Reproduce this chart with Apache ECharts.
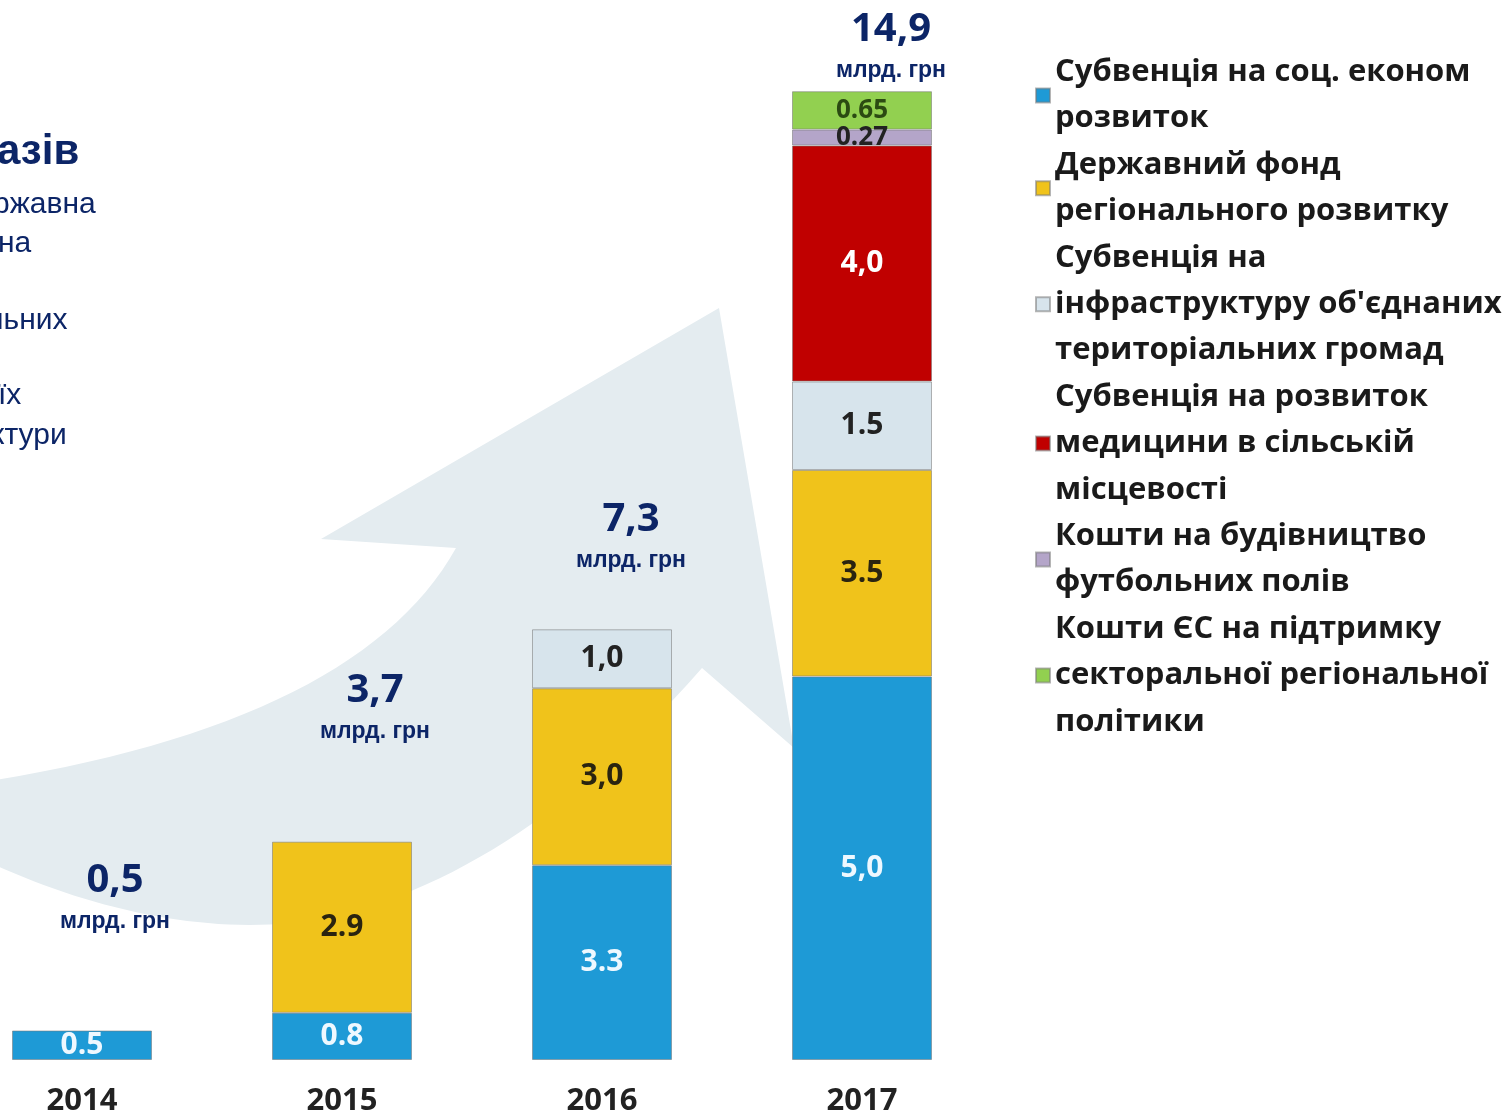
<!DOCTYPE html>
<html lang="uk">
<head>
<meta charset="UTF-8">
<title>Фінансування регіонального розвитку</title>
<script src="https://cdn.jsdelivr.net/npm/echarts@6/dist/echarts.min.js"></script>
<style>
  html, body { margin: 0; padding: 0; background: #fff; }
  #chart { width: 1512px; height: 1113px; }
</style>
</head>
<body>
<div id="chart"></div>
<script>
// роки
var years = ['2014', '2015', '2016', '2017'];

// назви джерел (легенда)
var sourceNames = [
  'Субвенція на соц. економ розвиток',
  'Державний фонд регіонального розвитку',
  "Субвенція на інфраструктуру об'єднаних територіальних громад",
  'Субвенція на розвиток медицини в сільській місцевості',
  'Кошти на будівництво футбольних полів',
  'Кошти ЄС на підтримку секторальної регіональної політики'
];
var legendText = [
  'Субвенція на соц. економ\nрозвиток',
  'Державний фонд\nрегіонального розвитку',
  "Субвенція на\nінфраструктуру об'єднаних\nтериторіальних громад",
  'Субвенція на розвиток\nмедицини в сільській\nмісцевості',
  'Кошти на будівництво\nфутбольних полів',
  'Кошти ЄС на підтримку\nсекторальної регіональної\nполітики'
];

// висоти сегментів, як їх намальовано (млрд грн)
// (синій сегмент 2017 в оригіналі намальований вищим за свій підпис 5,0)
var socEcon   = [0.5, 0.8, 3.3, 6.5];
var fundDFRR  = [null, 2.9, 3.0, 3.5];
var infraOTG  = [null, null, 1.0, 1.5];
var medicine  = [null, null, null, 4.0];
var football  = [null, null, null, 0.27];
var euSupport = [null, null, null, 0.65];

// підписи сегментів, як на картинці
var socEconLbl   = ['0.5', '0.8', '3.3', '5,0'];
var fundDFRRLbl  = ['', '2.9', '3,0', '3.5'];
var infraOTGLbl  = ['', '', '1,0', '1.5'];
var medicineLbl  = ['', '', '', '4,0'];
var footballLbl  = ['', '', '', '0.27'];
var euSupportLbl = ['', '', '', '0.65'];

// підсумки над стовпцями
var totalsLbl = ['0,5', '3,7', '7,3', '14,9'];

var colors = ['#1e9ad6', '#f0c31b', '#d7e4ec', '#c00000', '#b4a5c9', '#92d050'];
var labelColors = ['#eef8ff', '#2a2410', '#222222', '#ffffff', '#222222', '#2b4a12'];

var navy = '#0c2567';

// відступ підсумку над верхом стовпця (px)
var totalLift = [150, 151, 110, 62];

// фонова стрілка: точки контуру, криві розбиваються на відрізки
function bez(p0, p1, p2, p3, n) {
  var out = [];
  for (var i = 1; i <= n; i++) {
    var t = i / n, u = 1 - t;
    if (p3) {
      out.push([u*u*u*p0[0] + 3*u*u*t*p1[0] + 3*u*t*t*p2[0] + t*t*t*p3[0],
                u*u*u*p0[1] + 3*u*u*t*p1[1] + 3*u*t*t*p2[1] + t*t*t*p3[1]]);
    } else {
      out.push([u*u*p0[0] + 2*u*t*p1[0] + t*t*p2[0],
                u*u*p0[1] + 2*u*t*p1[1] + t*t*p2[1]]);
    }
  }
  return out;
}
var arrowPts = [[-5, 780]]
  .concat(bez([-5, 780], [360, 720], [456, 548], null, 30))
  .concat([[321, 539], [719, 308], [794, 748], [702, 668]])
  .concat(bez([702, 668], [560, 830], [420, 905], [300, 922], 30))
  .concat(bez([300, 922], [200, 934], [90, 908], [-5, 865], 30));

var chart = echarts.init(document.getElementById('chart'));

var segValues = [socEcon, fundDFRR, infraOTG, medicine, football, euSupport];
var segLabels = [socEconLbl, fundDFRRLbl, infraOTGLbl, medicineLbl, footballLbl, euSupportLbl];

var series = segValues.map(function (vals, i) {
  return {
    name: sourceNames[i],
    type: 'bar',
    stack: 'total',
    barWidth: 140,
    z: 3,
    data: vals,
    itemStyle: {
      color: colors[i],
      borderColor: 'rgba(120,120,120,0.55)',
      borderWidth: 1
    },
    label: {
      show: true,
      position: 'inside',
      color: labelColors[i],
      fontFamily: 'Open Sans',
      fontWeight: 'bold',
      fontSize: (i >= 4 ? 26 : 30),
      formatter: function (p) { return segLabels[i][p.dataIndex]; }
    }
  };
});

// верх кожного стовпця
var stackTop = years.map(function (y, k) {
  var s = 0;
  segValues.forEach(function (v) { s += v[k] || 0; });
  return s;
});

series.push({
  type: 'custom',
  z: 5,
  clip: false,
  silent: true,
  data: stackTop.map(function (v, k) { return [k, v]; }),
  renderItem: function (params, api) {
    var k = params.dataIndex;
    var pt = api.coord([api.value(0), api.value(1)]);
    var cx = pt[0] + (k < 2 ? 33 : 29);
    var cy = pt[1] - totalLift[k];
    return {
      type: 'group',
      children: [
        {
          type: 'text',
          style: {
            text: totalsLbl[k], x: cx, y: cy,
            align: 'center', verticalAlign: 'middle',
            font: 'bold 40px "Open Sans"', fill: navy
          }
        },
        {
          type: 'text',
          style: {
            text: 'млрд. грн', x: cx, y: cy + 41,
            align: 'center', verticalAlign: 'middle',
            font: 'bold 23px "Liberation Sans"', fill: navy
          }
        }
      ]
    };
  }
});

var option = {
  animation: false,
  backgroundColor: '#ffffff',
  grid: { left: 82, right: 650, top: 57, bottom: 53, outerBoundsMode: 'none' },
  xAxis: {
    type: 'category',
    data: years,
    boundaryGap: false,
    axisLine: { show: false },
    axisTick: { show: false },
    axisLabel: {
      margin: 26,
      color: '#222',
      fontFamily: 'Open Sans',
      fontWeight: 'bold',
      fontSize: 31
    }
  },
  yAxis: {
    type: 'value',
    min: 0,
    max: 17,
    show: false,
    splitLine: { show: false }
  },
  legend: {
    data: sourceNames,
    orient: 'vertical',
    left: 1035,
    top: 49,
    padding: 0,
    itemGap: 0,
    itemWidth: 14,
    itemHeight: 14,
    icon: 'rect',
    selectedMode: false,
    formatter: function (name) { return legendText[sourceNames.indexOf(name)]; },
    textStyle: {
      color: '#1a1a1a',
      fontFamily: 'Open Sans',
      fontWeight: 'bold',
      fontSize: 31,
      lineHeight: 46.4
    }
  },
  graphic: [
    {
      type: 'polygon',
      z: -10,
      silent: true,
      shape: { points: arrowPts },
      style: { fill: '#e4ecf0' }
    },
    { type: 'text', left: -3, top: 131, z: 1,
      style: { text: 'азів', font: 'bold 42px "Liberation Sans"', fill: navy } },
    { type: 'text', left: -7, top: 190, z: 1,
      style: { text: 'ржавна', font: '30px "Liberation Sans"', fill: navy } },
    { type: 'text', left: -2, top: 229, z: 1,
      style: { text: 'на', font: '30px "Liberation Sans"', fill: navy } },
    { type: 'text', left: -14, top: 306, z: 1,
      style: { text: 'льних', font: '30px "Liberation Sans"', fill: navy } },
    { type: 'text', left: -2, top: 381, z: 1,
      style: { text: 'їх', font: '30px "Liberation Sans"', fill: navy } },
    { type: 'text', left: -9, top: 421, z: 1,
      style: { text: 'ктури', font: '30px "Liberation Sans"', fill: navy } }
  ],
  series: series
};

chart.setOption(option);
</script>
</body>
</html>
